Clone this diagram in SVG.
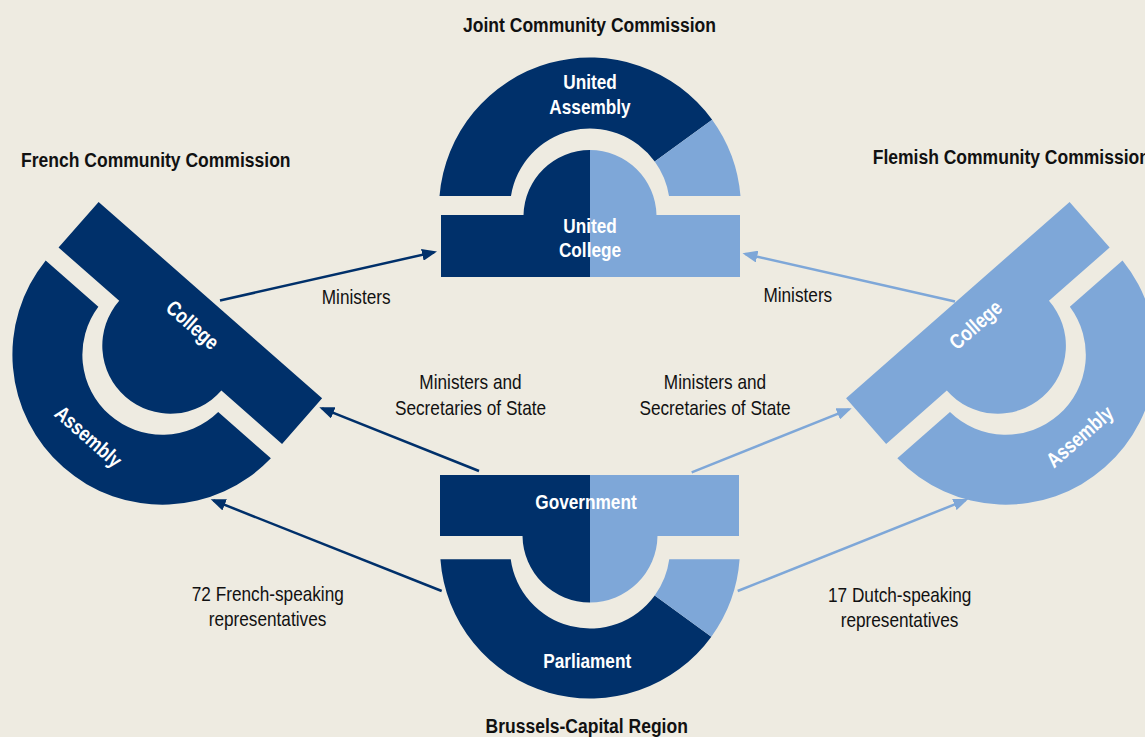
<svg xmlns="http://www.w3.org/2000/svg" width="1145" height="737" viewBox="0 0 1145 737">
  <style>
    .bg { fill: #EEEBE1; }
    .dark { fill: #00306A; }
    .light { fill: #7EA7D8; }
    text { font-family: "Liberation Sans", Arial, Helvetica, sans-serif; font-size: 21px; text-anchor: middle; }
    .title { font-weight: bold; fill: #111111; }
    .inner { font-weight: bold; fill: #FFFFFF; }
    .label { fill: #111111; }
    .link-dark { stroke: #00306A; stroke-width: 2.5; fill: none; }
    .link-light { stroke: #7EA7D8; stroke-width: 2.5; fill: none; }
  </style>
  <defs>
    <marker id="head-dark" markerUnits="userSpaceOnUse" markerWidth="16" markerHeight="12" refX="12" refY="6" orient="auto">
      <path d="M0,0 L15,6 L0,12 Z" fill="#00306A"/>
    </marker>
    <marker id="head-light" markerUnits="userSpaceOnUse" markerWidth="16" markerHeight="12" refX="12" refY="6" orient="auto">
      <path d="M0,0 L15,6 L0,12 Z" fill="#7EA7D8"/>
    </marker>
    <!-- shared shapes of the rotated commissions, local frame: dome centre at origin, dome pointing +y -->
    <path id="college-shape" d="M-148.75,-60.7 H148.75 V0 H68 A68,68 0 0 1 -68,0 H-148.75 Z"/>
    <path id="assembly-arc" d="M-149.87,18.2 A150,150 0 0 0 149.87,18.2 L79.76,18.2 A80,80 0 0 1 -79.76,18.2 Z"/>
  </defs>

  <rect class="bg" x="0" y="0" width="1145" height="737"/>

  <!-- connectors -->
  <g id="connectors">
    <line class="link-dark" x1="220" y1="300.5" x2="434.07" y2="252.16" marker-end="url(#head-dark)"/>
    <line class="link-light" x1="955" y1="301.5" x2="745.43" y2="253.96" marker-end="url(#head-light)"/>
    <line class="link-dark" x1="479" y1="471" x2="322.09" y2="408.41" marker-end="url(#head-dark)"/>
    <line class="link-light" x1="691.7" y1="472.3" x2="848.91" y2="409.41" marker-end="url(#head-light)"/>
    <line class="link-dark" x1="441.7" y1="591" x2="213.49" y2="500.41" marker-end="url(#head-dark)"/>
    <line class="link-light" x1="737.7" y1="591" x2="965.51" y2="500.11" marker-end="url(#head-light)"/>
  </g>

  <!-- connector labels -->
  <g id="connector-labels" class="label">
    <text transform="translate(356.2,304.3) scale(0.82,1)">Ministers</text>
    <text transform="translate(797.8,301.7) scale(0.82,1)">Ministers</text>
    <text transform="translate(470.5,389) scale(0.82,1)">Ministers and</text>
    <text transform="translate(470.5,414.5) scale(0.82,1)">Secretaries of State</text>
    <text transform="translate(715,389) scale(0.82,1)">Ministers and</text>
    <text transform="translate(715,415) scale(0.82,1)">Secretaries of State</text>
    <text transform="translate(267.8,601) scale(0.82,1)">72 French-speaking</text>
    <text transform="translate(267.5,626) scale(0.82,1)">representatives</text>
    <text transform="translate(899.7,601.7) scale(0.82,1)">17 Dutch-speaking</text>
    <text transform="translate(899.5,626.5) scale(0.82,1)">representatives</text>
  </g>

  <!-- Joint Community Commission -->
  <g id="joint-title" class="title">
    <text transform="translate(589.5,31.5) scale(0.834,1)">Joint Community Commission</text>
  </g>
  <g id="united-assembly">
    <path class="dark" d="M439.52,196 A151,151 0 0 1 712.16,119.74 L654.72,161.48 A80,80 0 0 0 510.98,196 Z"/>
    <path class="light" d="M712.16,119.74 A151,151 0 0 1 740.48,196 L669.02,196 A80,80 0 0 0 654.72,161.48 Z"/>
    <text class="inner" transform="translate(590,89.3) scale(0.82,1)">United</text>
    <text class="inner" transform="translate(590,114) scale(0.82,1)">Assembly</text>
  </g>
  <g id="united-college">
    <path class="dark" d="M441,215 H523.52 A66.5,66.5 0 0 1 590,150 V277 H441 Z"/>
    <path class="light" d="M590,150 A66.5,66.5 0 0 1 656.48,215 H740 V277 H590 Z"/>
    <text class="inner" transform="translate(590,232.7) scale(0.82,1)">United</text>
    <text class="inner" transform="translate(590,256.7) scale(0.82,1)">College</text>
  </g>

  <!-- Brussels-Capital Region -->
  <g id="government">
    <path class="dark" d="M440,475 H590 V602.5 A67.5,67.5 0 0 1 522.51,536 H440 Z"/>
    <path class="light" d="M590,475 H739 V536 H657.49 A67.5,67.5 0 0 1 590,602.5 Z"/>
    <text class="inner" transform="translate(586,509) scale(0.82,1)">Government</text>
  </g>
  <g id="parliament">
    <path class="dark" d="M440.4,559.3 A150,150 0 0 0 711.35,636.67 L654.72,595.52 A80,80 0 0 1 510.73,559.3 Z"/>
    <path class="light" d="M711.35,636.67 A150,150 0 0 0 739.6,559.3 L669.27,559.3 A80,80 0 0 1 654.72,595.52 Z"/>
    <text class="inner" transform="translate(587.2,667.7) scale(0.82,1)">Parliament</text>
  </g>
  <g id="region-title" class="title">
    <text transform="translate(586.7,733.3) scale(0.834,1)">Brussels-Capital Region</text>
  </g>

  <!-- French Community Commission -->
  <g id="french-title" class="title">
    <text transform="translate(155.8,166.5) scale(0.834,1)">French Community Commission</text>
  </g>
  <g id="french-college" transform="translate(170.3,345.7) rotate(41.3)">
    <use href="#college-shape" class="dark"/>
    <text class="inner" transform="translate(3,-23.2) scale(0.82,1)">College</text>
  </g>
  <g id="french-assembly" transform="translate(170.3,345.7) rotate(41.3)">
    <use href="#assembly-arc" class="dark"/>
    <text class="inner" transform="translate(-1.5,129.5) scale(0.82,1)">Assembly</text>
  </g>

  <!-- Flemish Community Commission -->
  <g id="flemish-title" class="title">
    <text transform="translate(872.7,164.3) scale(0.834,1)" style="text-anchor:start">Flemish Community Commission</text>
  </g>
  <g id="flemish-college" transform="translate(997.9,345.7) rotate(-41.3)">
    <use href="#college-shape" class="light"/>
    <text class="inner" transform="translate(-3,-23.2) scale(0.82,1)">College</text>
  </g>
  <g id="flemish-assembly" transform="translate(997.9,345.7) rotate(-41.3)">
    <use href="#assembly-arc" class="light"/>
    <text class="inner" transform="translate(1.5,129.5) scale(0.82,1)">Assembly</text>
  </g>
</svg>
